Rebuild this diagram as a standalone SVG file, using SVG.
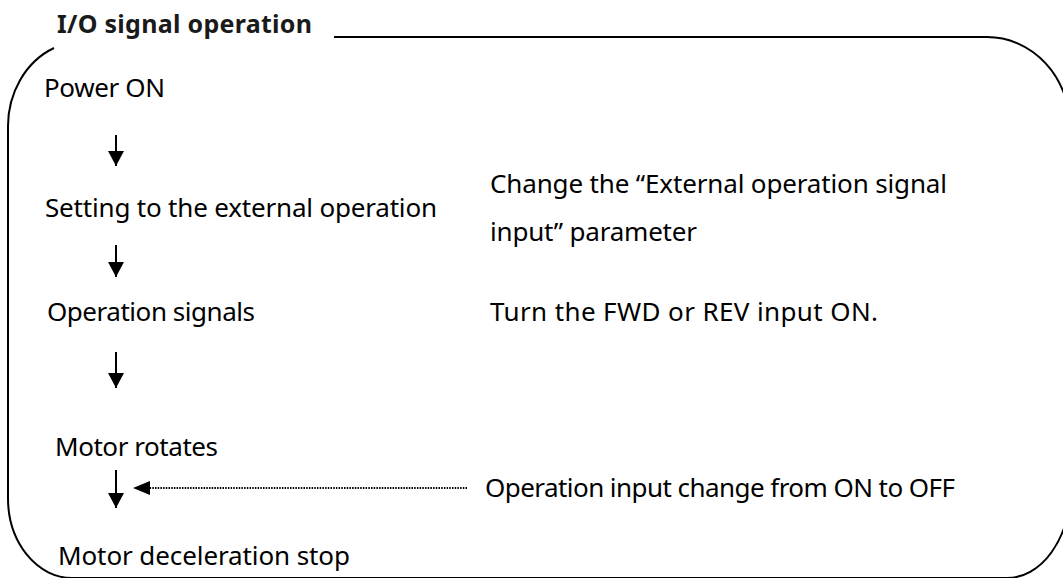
<svg xmlns="http://www.w3.org/2000/svg" width="1063" height="578" viewBox="0 0 1063 578">
<style>
.t{font-family:"Noto Sans","Open Sans",sans-serif;font-size:26px;fill:#000}
.b{font-weight:bold;font-size:25px;fill:#1a1a1a}
.frame{fill:none;stroke:#000;stroke-width:2}
.arr{stroke:#000;stroke-width:2}
.dot{stroke:#000;stroke-width:2;stroke-dasharray:1.5 1.2;fill:none}
</style>
<defs>
<marker id="ah" markerUnits="userSpaceOnUse" markerWidth="16" markerHeight="16" refX="15" refY="8" orient="auto">
<path d="M0,0 L15,8 L0,16 Z" fill="#000"/>
</marker>
</defs>
<rect width="1063" height="578" fill="#fff"/>
<g id="frame">
<path class="frame" d="M54 48 A75 85 0 0 0 8 128 V497 A64 80 0 0 0 72 578 H1007 A63 88 0 0 0 1070 490 V127 A83 90 0 0 0 987 37 H334"/>
</g>
<g id="title"><text class="t b" x="57" y="33" textLength="255">I/O signal operation</text></g>
<g id="n1"><text class="t" x="44" y="97" textLength="121">Power ON</text></g>
<g id="n2"><text class="t" x="45" y="217" textLength="392">Setting to the external operation</text></g>
<g id="n3"><text class="t" x="47" y="321" textLength="208">Operation signals</text></g>
<g id="n4"><text class="t" x="55" y="456" textLength="163">Motor rotates</text></g>
<g id="n5"><text class="t" x="58" y="565" textLength="292">Motor deceleration stop</text></g>
<g id="note1"><text class="t" x="490" y="193" textLength="457">Change the “External operation signal</text><text class="t" x="490" y="241" textLength="207">input” parameter</text></g>
<g id="note2"><text class="t" x="490" y="321" textLength="388">Turn the FWD or REV input ON.</text></g>
<g id="note3"><text class="t" x="485" y="497" textLength="470">Operation input change from ON to OFF</text></g>
<g id="connectors">
<line class="arr" x1="116" y1="135" x2="116" y2="166" marker-end="url(#ah)"/>
<line class="arr" x1="116" y1="245" x2="116" y2="277" marker-end="url(#ah)"/>
<line class="arr" x1="116" y1="352" x2="116" y2="388" marker-end="url(#ah)"/>
<line class="arr" x1="116" y1="470" x2="116" y2="508" marker-end="url(#ah)"/>
<line class="dot" x1="467" y1="488" x2="150" y2="488"/>
<path d="M133 488 L150 481 L150 495 Z" fill="#000"/>
</g>
</svg>
